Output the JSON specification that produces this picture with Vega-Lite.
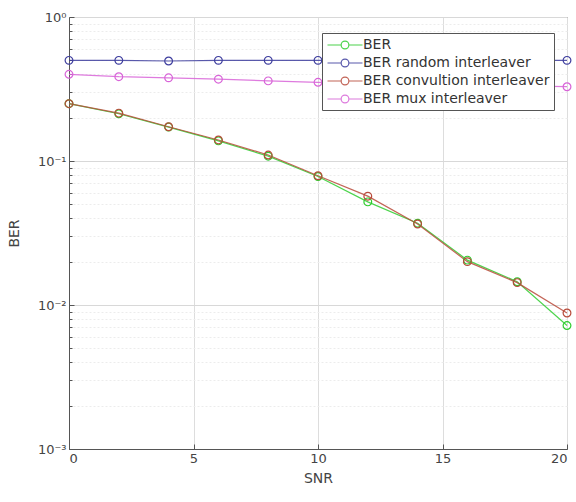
{
  "$schema": "https://vega.github.io/schema/vega-lite/v6.json",
  "width": 498,
  "height": 432,
  "autosize": {"type": "none"},
  "padding": {"left": 69, "top": 17, "right": 9, "bottom": 53},
  "background": "white",
  "config": {
    "font": "DejaVu Sans",
    "view": {"stroke": "#555555", "strokeWidth": 1},
    "axis": {
      "domainColor": "#555555",
      "tickColor": "#555555",
      "labelColor": "#444444",
      "titleColor": "#444444",
      "labelFontSize": 13,
      "titleFontSize": 14,
      "titleFontWeight": "normal",
      "gridColor": "#dddddd",
      "gridWidth": 1
    }
  },
  "data": {
    "values": [
      {"snr": 0, "ber": 0.25, "series": "BER"},
      {"snr": 2, "ber": 0.213, "series": "BER"},
      {"snr": 4, "ber": 0.172, "series": "BER"},
      {"snr": 6, "ber": 0.138, "series": "BER"},
      {"snr": 8, "ber": 0.108, "series": "BER"},
      {"snr": 10, "ber": 0.078, "series": "BER"},
      {"snr": 12, "ber": 0.052, "series": "BER"},
      {"snr": 14, "ber": 0.037, "series": "BER"},
      {"snr": 16, "ber": 0.0205, "series": "BER"},
      {"snr": 18, "ber": 0.0145, "series": "BER"},
      {"snr": 20, "ber": 0.0072, "series": "BER"},
      {"snr": 0, "ber": 0.5, "series": "BER random interleaver"},
      {"snr": 2, "ber": 0.5, "series": "BER random interleaver"},
      {"snr": 4, "ber": 0.495, "series": "BER random interleaver"},
      {"snr": 6, "ber": 0.5, "series": "BER random interleaver"},
      {"snr": 8, "ber": 0.5, "series": "BER random interleaver"},
      {"snr": 10, "ber": 0.5, "series": "BER random interleaver"},
      {"snr": 12, "ber": 0.5, "series": "BER random interleaver"},
      {"snr": 14, "ber": 0.5, "series": "BER random interleaver"},
      {"snr": 16, "ber": 0.5, "series": "BER random interleaver"},
      {"snr": 18, "ber": 0.5, "series": "BER random interleaver"},
      {"snr": 20, "ber": 0.5, "series": "BER random interleaver"},
      {"snr": 0, "ber": 0.25, "series": "BER convultion interleaver"},
      {"snr": 2, "ber": 0.215, "series": "BER convultion interleaver"},
      {"snr": 4, "ber": 0.173, "series": "BER convultion interleaver"},
      {"snr": 6, "ber": 0.14, "series": "BER convultion interleaver"},
      {"snr": 8, "ber": 0.11, "series": "BER convultion interleaver"},
      {"snr": 10, "ber": 0.079, "series": "BER convultion interleaver"},
      {"snr": 12, "ber": 0.057, "series": "BER convultion interleaver"},
      {"snr": 14, "ber": 0.0365, "series": "BER convultion interleaver"},
      {"snr": 16, "ber": 0.02, "series": "BER convultion interleaver"},
      {"snr": 18, "ber": 0.0143, "series": "BER convultion interleaver"},
      {"snr": 20, "ber": 0.0088, "series": "BER convultion interleaver"},
      {"snr": 0, "ber": 0.4, "series": "BER mux interleaver"},
      {"snr": 2, "ber": 0.385, "series": "BER mux interleaver"},
      {"snr": 4, "ber": 0.378, "series": "BER mux interleaver"},
      {"snr": 6, "ber": 0.37, "series": "BER mux interleaver"},
      {"snr": 8, "ber": 0.36, "series": "BER mux interleaver"},
      {"snr": 10, "ber": 0.352, "series": "BER mux interleaver"},
      {"snr": 12, "ber": 0.345, "series": "BER mux interleaver"},
      {"snr": 14, "ber": 0.34, "series": "BER mux interleaver"},
      {"snr": 16, "ber": 0.335, "series": "BER mux interleaver"},
      {"snr": 18, "ber": 0.332, "series": "BER mux interleaver"},
      {"snr": 20, "ber": 0.328, "series": "BER mux interleaver"}
    ]
  },
  "mark": {
    "type": "line",
    "strokeWidth": 1.2,
    "opacity": 0.85,
    "clip": false,
    "point": {"filled": false, "size": 60, "strokeWidth": 1.2}
  },
  "encoding": {
    "x": {
      "field": "snr",
      "type": "quantitative",
      "scale": {"domain": [0, 20], "nice": false, "zero": false},
      "axis": {
        "values": [0, 5, 10, 15, 20],
        "title": "SNR",
        "tickSize": -5,
        "labelPadding": 8,
        "titlePadding": 6,
        "grid": true,
        "gridColor": "#dddddd"
      }
    },
    "y": {
      "field": "ber",
      "type": "quantitative",
      "scale": {"type": "log", "domain": [0.001, 1], "nice": false},
      "axis": {
        "values": [0.001, 0.002, 0.003, 0.004, 0.005, 0.006, 0.007, 0.008, 0.009, 0.01, 0.02, 0.03, 0.04, 0.05, 0.06, 0.07, 0.08, 0.09, 0.1, 0.2, 0.3, 0.4, 0.5, 0.6, 0.7, 0.8, 0.9, 1],
        "labelExpr": "abs(log(datum.value)/LN10 - round(log(datum.value)/LN10)) < 0.001 ? (round(log(datum.value)/LN10) == 0 ? '10⁰' : round(log(datum.value)/LN10) == -1 ? '10⁻¹' : round(log(datum.value)/LN10) == -2 ? '10⁻²' : '10⁻³') : ''",
        "title": "BER",
        "titlePadding": 16,
        "labelPadding": 8,
        "tickSize": {"condition": {"test": "abs(log(datum.value)/LN10 - round(log(datum.value)/LN10)) < 0.001", "value": -5}, "value": -3},
        "grid": true,
        "gridColor": {"condition": {"test": "abs(log(datum.value)/LN10 - round(log(datum.value)/LN10)) < 0.001", "value": "#d8d8d8"}, "value": "#ececec"},
        "gridDash": {"condition": {"test": "abs(log(datum.value)/LN10 - round(log(datum.value)/LN10)) < 0.001", "value": []}, "value": [2, 2]}
      }
    },
    "color": {
      "field": "series",
      "type": "nominal",
      "sort": null,
      "scale": {
        "domain": ["BER", "BER random interleaver", "BER convultion interleaver", "BER mux interleaver"],
        "range": ["#2ecc2e", "#3d3d9e", "#b84a3a", "#d864d8"]
      },
      "legend": {
        "title": null,
        "orient": "none",
        "legendX": 253,
        "legendY": 16,
        "fillColor": "white",
        "strokeColor": "#555555",
        "padding": 4,
        "labelFontSize": 14,
        "labelLimit": 400,
        "labelColor": "#333333",
        "symbolType": "M-2.5,0L-0.55,0M0.55,0L2.5,0M-0.55,0A0.55,0.55 0 1,1 0.55,0A0.55,0.55 0 1,1 -0.55,0Z",
        "symbolSize": 196,
        "symbolStrokeWidth": 1.2,
        "symbolFillColor": "transparent",
        "symbolOffset": 11,
        "labelOffset": 10,
        "rowPadding": 3
      }
    }
  }
}
